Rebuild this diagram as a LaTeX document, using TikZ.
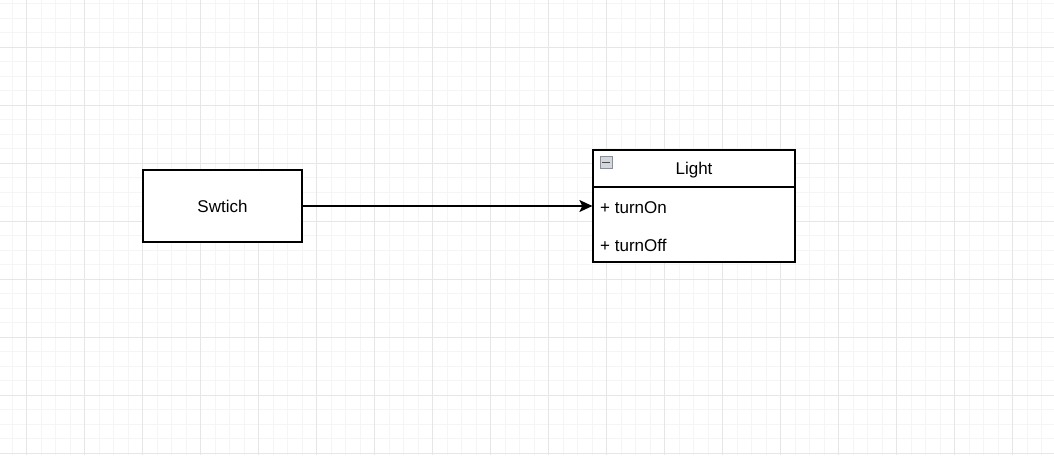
\documentclass[tikz,border=0pt]{standalone}
\usepackage{fontspec}
\setmainfont{Liberation Sans}
\usetikzlibrary{arrows.meta}
\definecolor{gridminor}{HTML}{F5F5F5}
\definecolor{gridmajor}{HTML}{E6E6E6}
\definecolor{iconedge}{HTML}{8A8F99}
\definecolor{iconfill}{HTML}{D4D7DC}
\tikzset{
  box/.style={draw=black, line width=1.25pt, fill=white, inner sep=0pt, font=\fontsize{17}{20}\selectfont},
  member/.style={inner sep=0pt, anchor=west, font=\fontsize{17}{20}\selectfont},
  conn/.style={line width=1.25pt, -{Stealth[length=13pt,width=12pt,inset=3pt]}}
}
\begin{document}
\begin{tikzpicture}[x=1pt,y=-1pt]
\useasboundingbox (0,0) rectangle (1054,455);
\fill[white] (0,0) rectangle (1054,455);
% minor grid
\foreach \i in {0,...,73} {
  \draw[gridminor, line width=0.8pt] ({12.2+14.5*\i},0) -- ({12.2+14.5*\i},455);
}
\foreach \j in {0,...,31} {
  \draw[gridminor, line width=0.8pt] (0,{3.8+14.5*\j}) -- (1054,{3.8+14.5*\j});
}
% major grid
\foreach \i in {0,...,18} {
  \draw[gridmajor, line width=0.8pt] ({26.7+58*\i},0) -- ({26.7+58*\i},455);
}
\foreach \j in {0,...,7} {
  \draw[gridmajor, line width=0.8pt] (0,{47.3+58*\j}) -- (1054,{47.3+58*\j});
}
% Switch
\node[box, minimum width=159pt, minimum height=72pt] (sw) at (222.5,206) {Swtich};
% Light class
\node[box, minimum width=202pt, minimum height=37pt] (lighthead) at (694,168.5) {};
\node[inner sep=0pt, font=\fontsize{17}{20}\selectfont] (lighttitle) at (694,170) {Light};
\node[box, minimum width=202pt, minimum height=75pt] (lightbody) at (694,224.5) {};
\node[member] (on) at (600,208) {+ turnOn};
\node[member] (off) at (600,245) {+ turnOff};
% collapse icon
\node[draw=iconedge, fill=iconfill, line width=0.8pt, minimum size=12pt, inner sep=0pt] (icon) at (606,162.5) {};
\draw[black!70, line width=1.3pt] ([xshift=2.5pt]icon.west) -- ([xshift=-2.5pt]icon.east);
% connector
\draw[conn] (sw.east) -- (sw.east -| lightbody.west);
\end{tikzpicture}
\end{document}
